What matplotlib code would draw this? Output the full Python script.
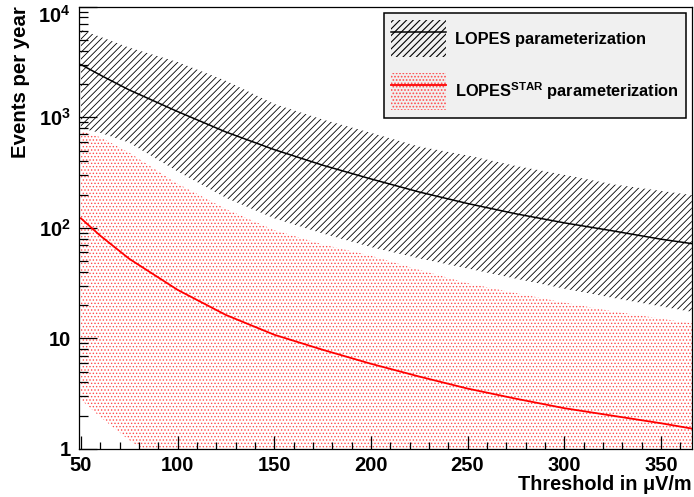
import matplotlib
matplotlib.use('Agg')
import matplotlib.pyplot as plt
import numpy as np
from matplotlib.ticker import FixedLocator, MultipleLocator, LogLocator, FuncFormatter, NullFormatter

plt.rcParams['font.family'] = ['Liberation Sans', 'DejaVu Sans']
plt.rcParams['font.weight'] = 'bold'
plt.rcParams['mathtext.fontset'] = 'custom'
plt.rcParams['mathtext.rm'] = 'Liberation Sans:bold'
plt.rcParams['mathtext.bf'] = 'Liberation Sans:bold'
plt.rcParams['mathtext.it'] = 'Liberation Sans:bold'
plt.rcParams['hatch.linewidth'] = 0.8

# threshold in uV/m
threshold = [50, 60, 75, 100, 125, 150, 175, 200, 225, 250, 275, 300, 325, 350, 366]

# LOPES parameterization (events per year) and its band
lopes = [3000, 2410, 1766, 1127, 736, 510, 369, 277, 211, 166, 134, 111, 94, 79, 72]
lopes_hi = [6170, 5350, 4270, 3160, 2140, 1320, 955, 724, 543, 452, 363, 302, 248, 216, 198]
lopes_lo = [794, 724, 589, 324, 187, 122, 89, 67, 53, 42.9, 34.7, 28.2, 23.3, 19.5, 17.4]

# LOPES-STAR parameterization and its band
star = [122, 85, 52.5, 27.5, 16.3, 10.8, 7.9, 5.9, 4.52, 3.52, 2.85, 2.34, 2.0, 1.71, 1.53]
star_hi = [750, 661, 479, 251, 148, 95.5, 70.8, 56, 41.7, 31.6, 25.7, 21.1, 17.6, 15.1, 13.7]
star_lo = [2.79, 1.95, 1.2, 0.63, 0.374, 0.247, 0.18, 0.135, 0.104, 0.081, 0.065, 0.054, 0.046, 0.039, 0.035]

fig = plt.figure(figsize=(6.94, 4.97), dpi=100)
ax = fig.add_axes([0.1138, 0.0966, 0.8833, 0.8899])

with plt.rc_context({'hatch.linewidth': 0.6}):
    band2 = ax.fill_between(threshold, star_lo, star_hi, facecolor='none',
                            edgecolor='#ff4a4a', hatch='.....', linewidth=0)
    band1 = ax.fill_between(threshold, lopes_lo, lopes_hi, facecolor='none',
                            edgecolor='black', hatch='/////', linewidth=0)
line1, = ax.plot(threshold, lopes, color='black', lw=1.1)
line2, = ax.plot(threshold, star, color='red', lw=1.3)

ax.set_yscale('log')
ax.set_xlim(49, 366.1)
ax.set_ylim(1, 1e4)

ax.xaxis.set_major_locator(FixedLocator([50, 100, 150, 200, 250, 300, 350]))
ax.xaxis.set_minor_locator(MultipleLocator(10))
ax.yaxis.set_major_locator(LogLocator(base=10))
ax.yaxis.set_minor_locator(LogLocator(base=10, subs=np.arange(2, 10)))
ax.yaxis.set_minor_formatter(NullFormatter())


def ylab(v, pos):
    if v < 1.5:
        return '1'
    if v < 15:
        return '10'
    if v > 5000:
        return ''  # top label placed by hand below the frame edge
    return '$10^{%d}$' % int(round(np.log10(v)))


ax.yaxis.set_major_formatter(FuncFormatter(ylab))
ax.annotate('$10^{4}$', xy=(0, 1), xycoords='axes fraction', xytext=(-6, 1),
            textcoords='offset points', ha='right', va='top', fontsize=14.5)

ax.tick_params(which='both', direction='in', top=False, right=False, width=0.9,
               labelsize=14.5)
ax.tick_params(axis='x', which='major', length=9.5, pad=5)
ax.tick_params(axis='x', which='minor', length=4.8)
ax.tick_params(axis='y', which='major', length=13, pad=6)
ax.tick_params(axis='y', which='minor', length=6.5)
for s in ax.spines.values():
    s.set_linewidth(0.9)

ax.set_xlabel('Threshold in μV/m', fontsize=14.3, fontweight='bold', ha='right')
ax.xaxis.set_label_coords(1.0, -0.058)
ax.set_ylabel('Events per year', fontsize=14.7, fontweight='bold', ha='right')
ax.yaxis.set_label_coords(-0.080, 1.0)

leg = ax.legend([(band1, line1), (band2, line2)],
                ['LOPES parameterization', r'LOPES$^{\mathrm{STAR}}$ parameterization'],
                loc='upper right', bbox_to_anchor=(0.990, 0.986), borderaxespad=0,
                fontsize=11.8, handlelength=3.3, handleheight=3.1, labelspacing=0.98,
                handletextpad=0.55, borderpad=0.45, fancybox=False, framealpha=1,
                facecolor='#f0f0f0', edgecolor='black')
leg.get_frame().set_linewidth(1.1)

fig.savefig('out.png', dpi=100, facecolor='white')
